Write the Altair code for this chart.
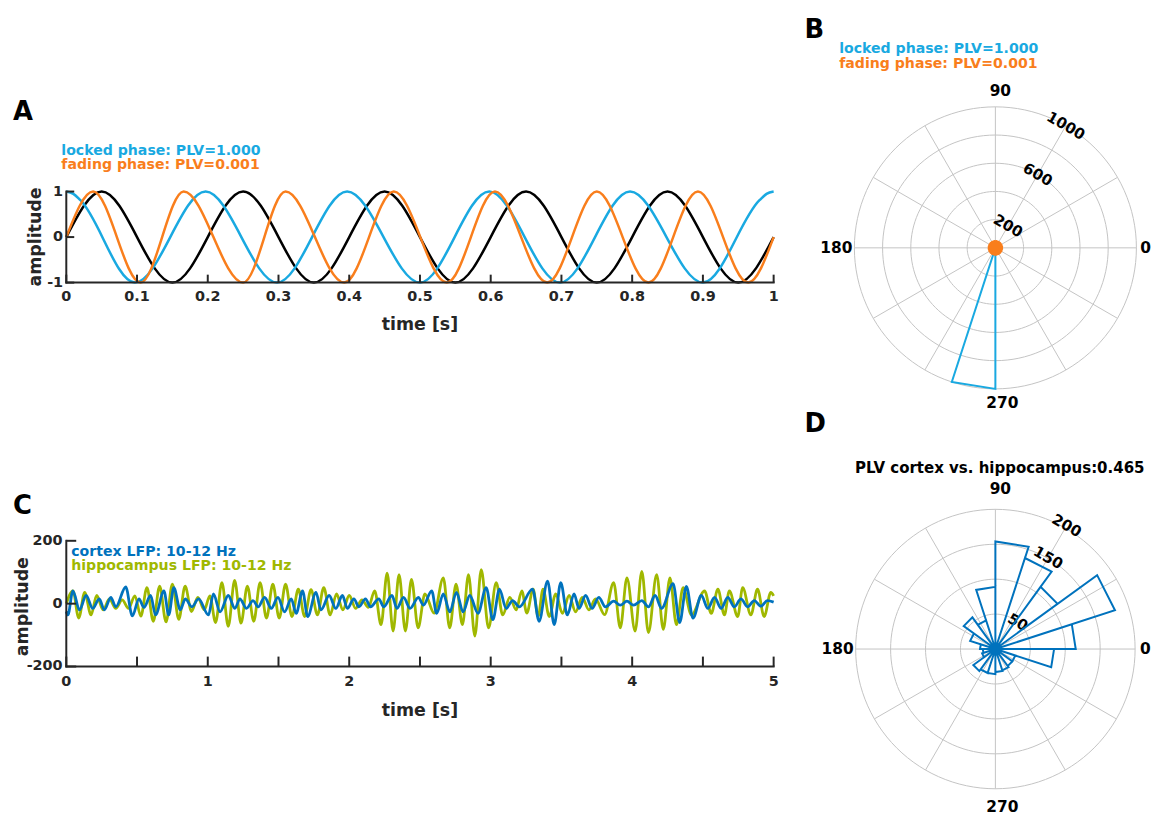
import altair as alt
import pandas as pd

FONT = "DejaVu Sans"
AXC = "#262626"
CYAN = "#19A9E1"
ORANGE = "#F97E1C"
CBLUE = "#0072BD"
CGREEN = "#A0B800"
GRID = "#C4C4C4"

# ------------------------------------------------------------------ data
# Panel A : extrema of the three 5 Hz-ish signals (time [s], amplitude)
a_ref_t = [0, 0.05, 0.15, 0.25, 0.35, 0.45, 0.55, 0.65, 0.75, 0.85, 0.95, 1.0]
a_ref_v = [0, 1, -1, 1, -1, 1, -1, 1, -1, 1, -1, 0]
a_locked_t = [0, 0.01, 0.02, 0.097, 0.197, 0.298, 0.397, 0.5, 0.598, 0.698, 0.797, 0.9, 0.98, 0.99, 1.0]
a_locked_v = [1, 0.95, 0.81, -1, 1, -1, 1, -1, 1, -1, 1, -1, 0.81, 0.95, 1]
a_fading_t = [0, 0.038, 0.105, 0.166, 0.25, 0.31, 0.393, 0.463, 0.538, 0.606, 0.68, 0.75, 0.823, 0.893, 0.964, 1.0]
a_fading_v = [0, 1, -1, 1, -1, 1, -1, 1, -1, 1, -1, 1, -1, 1, -1, 0]
a_time_ticks = [0, 0.1, 0.2, 0.3, 0.4, 0.5, 0.6, 0.7, 0.8, 0.9, 1]
a_time_labels = ["0", "0.1", "0.2", "0.3", "0.4", "0.5", "0.6", "0.7", "0.8", "0.9", "1"]
a_amp_ticks = [-1, 0, 1]
a_amp_labels = ["-1", "0", "1"]

# Panel C : extrema of the filtered LFPs [time s, amplitude]
c_cortex = [
    [0.0, -25], [0.011, -36], [0.047, 41], [0.093, -20], [0.14, 26], [0.187, -15], [0.233, 15],
    [0.269, -20], [0.315, 20], [0.35, -10], [0.42, 53], [0.467, -39], [0.514, 15], [0.549, -12],
    [0.596, 26], [0.631, -36], [0.69, 41], [0.724, -36], [0.76, 51], [0.806, -20], [0.841, 15],
    [0.888, -10], [0.935, 15], [1.005, -36], [1.04, 31], [1.087, -26], [1.145, 26], [1.192, -15],
    [1.227, 15], [1.274, -15], [1.32, 10], [1.356, -10], [1.402, 20], [1.449, -15], [1.496, 20],
    [1.543, -26], [1.59, 15], [1.625, -31], [1.67, 41], [1.706, -41], [1.765, 36], [1.8, -20],
    [1.858, 26], [1.905, -15], [1.952, 26], [1.987, -15], [2.033, 15], [2.068, -10], [2.115, 15],
    [2.15, -10], [2.209, 15], [2.244, -10], [2.302, 26], [2.337, -15], [2.384, 20], [2.43, -15],
    [2.489, 20], [2.524, -5], [2.583, 41], [2.618, -31], [2.665, 31], [2.711, -26], [2.758, 36],
    [2.805, -26], [2.852, 26], [2.91, -31], [2.968, 51], [3.015, -51], [3.062, 46], [3.109, -15],
    [3.155, 10], [3.202, -10], [3.296, 46], [3.342, -56], [3.402, 72], [3.449, -67], [3.495, 67],
    [3.542, -36], [3.589, 31], [3.624, -15], [3.671, 26], [3.717, -15], [3.764, 20], [3.811, -10],
    [3.87, 8], [3.916, -5], [3.963, 8], [4.01, -5], [4.068, 10], [4.115, -10], [4.162, 26],
    [4.208, -15], [4.289, 64], [4.336, -60], [4.383, 55], [4.43, -46], [4.489, 26], [4.535, -15],
    [4.582, 20], [4.629, -15], [4.676, 20], [4.722, -10], [4.769, 15], [4.816, -10], [4.863, 10],
    [4.91, -8], [4.956, 10], [5.0, 5],
]
c_hippo = [
    [0.0, 0], [0.047, 41], [0.088, -46], [0.13, 36], [0.175, -36], [0.215, 26], [0.26, -20],
    [0.305, 15], [0.35, -15], [0.395, 12], [0.44, -15], [0.485, 25], [0.527, -40], [0.57, 51],
    [0.615, -56], [0.66, 56], [0.705, -58], [0.75, 62], [0.795, -50], [0.84, 56], [0.885, -25],
    [0.93, 20], [0.975, -20], [1.015, 25], [1.055, -60], [1.1, 67], [1.145, -72], [1.19, 74],
    [1.235, -62], [1.28, 56], [1.325, -56], [1.37, 67], [1.415, -46], [1.46, 62], [1.505, -46],
    [1.55, 62], [1.595, -41], [1.64, 46], [1.685, -41], [1.73, 45], [1.775, -36], [1.82, 51],
    [1.865, -36], [1.91, 31], [1.955, -20], [2.0, 26], [2.045, -15], [2.09, 12], [2.135, -12],
    [2.18, 41], [2.225, -67], [2.268, 97], [2.31, -87], [2.352, 92], [2.397, -87], [2.44, 77],
    [2.487, -77], [2.535, 31], [2.6, -30], [2.665, 82], [2.71, -77], [2.755, 62], [2.8, -67],
    [2.843, 92], [2.888, -103], [2.933, 108], [2.985, -77], [3.039, 67], [3.085, -36], [3.135, 20],
    [3.18, -20], [3.22, 41], [3.255, -30], [3.3, 46], [3.335, -41], [3.37, 46], [3.414, -41],
    [3.46, 31], [3.507, -31], [3.554, 26], [3.6, -26], [3.647, 20], [3.694, -20], [3.741, 15],
    [3.805, -35], [3.869, 67], [3.916, -77], [3.963, 82], [4.021, -87], [4.068, 103], [4.115, -92],
    [4.173, 92], [4.22, -82], [4.267, 82], [4.313, -67], [4.36, 51], [4.419, -36], [4.512, 41],
    [4.559, -31], [4.606, 46], [4.652, -36], [4.687, 41], [4.746, -41], [4.781, 51], [4.839, -36],
    [4.886, 46], [4.933, -41], [4.98, 36], [5.0, 25],
]
c_time_ticks = [0, 0.5, 1, 1.5, 2, 2.5, 3, 3.5, 4, 4.5, 5]
c_time_label_pos = [0, 1, 2, 3, 4, 5]
c_time_labels = ["0", "1", "2", "3", "4", "5"]
c_amp_ticks = [-200, 0, 200]
c_amp_labels = ["-200", "0", "200"]

# Rose histograms: 20 bins of 18 degrees (bin start angles)
rose_bin_start = [0, 18, 36, 54, 72, 90, 108, 126, 144, 162, 180, 198, 216, 234, 252, 270, 288, 306, 324, 342]
b_locked_counts = [0, 0, 0, 0, 0, 0, 0, 0, 0, 0, 0, 0, 0, 0, 1000, 0, 0, 0, 0, 0]
b_fading_counts = [45, 45, 45, 45, 45, 45, 45, 45, 45, 45, 45, 45, 45, 45, 45, 45, 45, 45, 45, 45]
d_counts = [115, 180, 110, 137, 154, 89, 43, 56, 38, 22, 18, 20, 39, 36, 36, 33, 32, 30, 30, 84]

polar_spokes = [0, 30, 60, 90, 120, 150, 180, 210, 240, 270, 300, 330]
b_rings = [200, 400, 600, 800, 1000]
b_ring_labels = ["200", "600", "1000"]
b_ring_label_r = [180, 600, 1000]
b_ring_label_a = [60, 60, 60]
d_rings = [50, 100, 150, 200]
d_ring_labels = ["50", "150", "200"]
d_ring_label_r = [50, 151, 204]
d_ring_label_a = [50, 60, 60]

# ------------------------------------------------------------------ geometry (chart px)
A_X = [58.7, 771.0]
A_Y = [273.7, 182.0]
C_X = [58.7, 771.0]
C_Y = [660.3, 533.7]
B_C = (994.3, 238.7)
B_R = 142.0
D_C = (994.3, 642.7)
D_R = 140.7

TICK_FS = 14.5
LEG_FS = 14.2
TITLE_FS = 17.5
POLAR_FS = 15.5


def sc(domain, rng):
    return alt.Scale(domain=domain, range=rng, nice=False, zero=False)


AXS = sc([0, 1], A_X)
AYS = sc([-1, 1], A_Y)
CXS = sc([0, 5], C_X)
CYS = sc([-200, 200], C_Y)
BXS = sc([-max(b_rings), max(b_rings)], [B_C[0] - B_R, B_C[0] + B_R])
BYS = sc([-max(b_rings), max(b_rings)], [B_C[1] + B_R, B_C[1] - B_R])
DXS = sc([-max(d_rings), max(d_rings)], [D_C[0] - D_R, D_C[0] + D_R])
DYS = sc([-max(d_rings), max(d_rings)], [D_C[1] + D_R, D_C[1] - D_R])

layers = []


def text(s, x, y, color, size, align="left", baseline="middle", angle=0):
    return alt.Chart(pd.DataFrame({"s": [s]})).mark_text(
        align=align, baseline=baseline, font=FONT, fontSize=size, fontWeight="bold",
        color=color, angle=angle
    ).encode(x=alt.value(x), y=alt.value(y), text="s:N")


def series(ts, vs, xs, ys, color, width):
    df = pd.DataFrame({"t": ts, "v": vs})
    return alt.Chart(df).mark_line(color=color, strokeWidth=width, interpolate="monotone").encode(
        x=alt.X("t:Q", scale=xs, axis=None), y=alt.Y("v:Q", scale=ys, axis=None))


def cart_axes(xs, ys, xdom, ydom, xticks, xlab_pos, xlabs, yticks, ylabs,
              bottom, left, tlen, xlab_base, ylab_right):
    out = []
    out.append(alt.Chart(pd.DataFrame({"a": [xdom[0]], "b": [xdom[1]], "y": [ydom[0]]}))
               .mark_rule(color=AXC, strokeWidth=2, strokeCap="square")
               .encode(x=alt.X("a:Q", scale=xs, axis=None), x2="b:Q", y=alt.Y("y:Q", scale=ys, axis=None)))
    out.append(alt.Chart(pd.DataFrame({"x": [xdom[0]], "a": [ydom[0]], "b": [ydom[1]]}))
               .mark_rule(color=AXC, strokeWidth=2, strokeCap="square")
               .encode(x=alt.X("x:Q", scale=xs, axis=None), y=alt.Y("a:Q", scale=ys, axis=None), y2="b:Q"))
    out.append(alt.Chart(pd.DataFrame({"t": xticks})).mark_rule(color=AXC, strokeWidth=2)
               .encode(x=alt.X("t:Q", scale=xs, axis=None), y=alt.value(bottom), y2=alt.value(bottom - tlen)))
    out.append(alt.Chart(pd.DataFrame({"t": yticks})).mark_rule(color=AXC, strokeWidth=2)
               .encode(y=alt.Y("t:Q", scale=ys, axis=None), x=alt.value(left), x2=alt.value(left + tlen)))
    out.append(alt.Chart(pd.DataFrame({"t": xlab_pos, "s": xlabs}))
               .mark_text(align="center", baseline="alphabetic", font=FONT, fontSize=TICK_FS,
                          fontWeight="bold", color=AXC)
               .encode(x=alt.X("t:Q", scale=xs, axis=None), y=alt.value(xlab_base), text="s:N"))
    out.append(alt.Chart(pd.DataFrame({"t": yticks, "s": ylabs}))
               .mark_text(align="right", baseline="middle", font=FONT, fontSize=TICK_FS,
                          fontWeight="bold", color=AXC)
               .encode(y=alt.Y("t:Q", scale=ys, axis=None), x=alt.value(ylab_right), text="s:N"))
    return out


def polar_grid(rings, xs, ys):
    out = []
    out.append(alt.Chart(pd.DataFrame({"r": rings}))
               .transform_calculate(ang="sequence(0, 361, 3)")
               .transform_flatten(["ang"])
               .transform_calculate(px="datum.r*cos(datum.ang*PI/180)", py="datum.r*sin(datum.ang*PI/180)")
               .mark_line(color=GRID, strokeWidth=1)
               .encode(x=alt.X("px:Q", scale=xs, axis=None), y=alt.Y("py:Q", scale=ys, axis=None),
                       detail="r:N", order="ang:Q"))
    rmax = max(rings)
    out.append(alt.Chart(pd.DataFrame({"a": polar_spokes, "z": [0] * len(polar_spokes)}))
               .transform_calculate(px=f"{rmax}*cos(datum.a*PI/180)", py=f"{rmax}*sin(datum.a*PI/180)")
               .mark_rule(color=GRID, strokeWidth=1)
               .encode(x=alt.X("z:Q", scale=xs, axis=None), y=alt.Y("z:Q", scale=ys, axis=None),
                       x2="px:Q", y2="py:Q"))
    return out


def rose(counts, xs, ys, color, width):
    w = 360 / len(counts)
    rows = []
    for i, (a0, c) in enumerate(zip(rose_bin_start, counts)):
        for v in range(4):
            rows.append({"o": i * 4 + v, "a0": a0, "a1": a0 + w, "c": c, "v": v})
    return (alt.Chart(pd.DataFrame(rows))
            .transform_calculate(r="(datum.v==1||datum.v==2)?datum.c:0",
                                 ang="datum.v==2?datum.a1:datum.a0")
            .transform_calculate(px="datum.r*cos(datum.ang*PI/180)", py="datum.r*sin(datum.ang*PI/180)")
            .mark_line(color=color, strokeWidth=width, strokeJoin="miter")
            .encode(x=alt.X("px:Q", scale=xs, axis=None), y=alt.Y("py:Q", scale=ys, axis=None),
                    order="o:Q"))


def ring_labels(labels, rs, angs, xs, ys):
    return (alt.Chart(pd.DataFrame({"s": labels, "r": rs, "a": angs}))
            .transform_calculate(px="datum.r*cos(datum.a*PI/180)", py="datum.r*sin(datum.a*PI/180)")
            .mark_text(align="center", baseline="middle", font=FONT, fontSize=15, fontWeight="bold",
                       color="black", angle=30)
            .encode(x=alt.X("px:Q", scale=xs, axis=None), y=alt.Y("py:Q", scale=ys, axis=None), text="s:N"))


# ------------------------------------------------------------------ panel A
layers.append(series(a_ref_t, a_ref_v, AXS, AYS, "black", 2.5))
layers.append(series(a_locked_t, a_locked_v, AXS, AYS, CYAN, 2.5))
layers.append(series(a_fading_t, a_fading_v, AXS, AYS, ORANGE, 2.5))
layers += cart_axes(AXS, AYS, [0, 1], [-1, 1], a_time_ticks, a_time_ticks, a_time_labels,
                    a_amp_ticks, a_amp_labels, A_Y[0], A_X[0], 8, 292.5, 55.5)
layers.append(text("A", 5, 110.3, "black", 26, baseline="alphabetic"))
layers.append(text("locked phase: PLV=1.000", 53.7, 140.8, CYAN, LEG_FS))
layers.append(text("fading phase: PLV=0.001", 53.7, 155.5, ORANGE, LEG_FS))
layers.append(text("amplitude", 28.5, 227.8, AXC, TITLE_FS, align="center", angle=270))
layers.append(text("time [s]", 414.8, 316, AXC, TITLE_FS, align="center"))

# ------------------------------------------------------------------ panel C
layers.append(series([p[0] for p in c_hippo], [p[1] for p in c_hippo], CXS, CYS, CGREEN, 2.8))
layers.append(series([p[0] for p in c_cortex], [p[1] for p in c_cortex], CXS, CYS, CBLUE, 2.8))
layers += cart_axes(CXS, CYS, [0, 5], [-200, 200], c_time_ticks, c_time_label_pos, c_time_labels,
                    c_amp_ticks, c_amp_labels, C_Y[0], C_X[0], 10, 679.5, 55)
layers.append(text("C", 5, 507, "black", 26, baseline="alphabetic"))
layers.append(text("cortex LFP: 10-12 Hz", 63.7, 545, CBLUE, LEG_FS))
layers.append(text("hippocampus LFP: 10-12 Hz", 63.7, 559, CGREEN, LEG_FS))
layers.append(text("amplitude", 15, 600, AXC, TITLE_FS, align="center", angle=270))
layers.append(text("time [s]", 414.8, 705, AXC, TITLE_FS, align="center"))

# ------------------------------------------------------------------ panel B
layers += polar_grid(b_rings, BXS, BYS)
layers.append(ring_labels(b_ring_labels, b_ring_label_r, b_ring_label_a, BXS, BYS))
layers.append(rose(b_locked_counts, BXS, BYS, CYAN, 2))
layers.append(rose(b_fading_counts, BXS, BYS, ORANGE, 2.5))
layers.append(text("B", 802, 27, "black", 26, baseline="alphabetic"))
layers.append(text("locked phase: PLV=1.000", 837, 38.5, CYAN, LEG_FS))
layers.append(text("fading phase: PLV=0.001", 837, 53.5, ORANGE, LEG_FS))
layers.append(text("90", B_C[0] + 5, 81, "black", POLAR_FS, align="center"))
layers.append(text("180", B_C[0] - B_R - 2, B_C[1], "black", POLAR_FS, align="right"))
layers.append(text("0", B_C[0] + B_R + 4, B_C[1], "black", POLAR_FS, align="left"))
layers.append(text("270", B_C[0] + 7, 395, "black", POLAR_FS, align="center"))

# ------------------------------------------------------------------ panel D
layers += polar_grid(d_rings, DXS, DYS)
layers.append(ring_labels(d_ring_labels, d_ring_label_r, d_ring_label_a, DXS, DYS))
layers.append(rose(d_counts, DXS, DYS, CBLUE, 2))
layers.append(text("D", 802, 423.7, "black", 26, baseline="alphabetic"))
layers.append(text("PLV cortex vs. hippocampus:0.465", 998.7, 460.3, "black", 15.1, align="center"))
layers.append(text("90", D_C[0] + 5, 482, "black", POLAR_FS, align="center"))
layers.append(text("180", D_C[0] - D_R - 2, D_C[1], "black", POLAR_FS, align="right"))
layers.append(text("0", D_C[0] + D_R + 5, D_C[1], "black", POLAR_FS, align="left"))
layers.append(text("270", D_C[0] + 7, 802, "black", POLAR_FS, align="center"))

chart = (alt.layer(*layers)
         .resolve_scale(x="independent", y="independent")
         .properties(width=1151, height=809, padding=0,
                     autosize=alt.AutoSizeParams(type="none"))
         .configure_view(stroke="transparent"))

chart.save("out.html", embed_options={"renderer": "svg", "actions": False})
